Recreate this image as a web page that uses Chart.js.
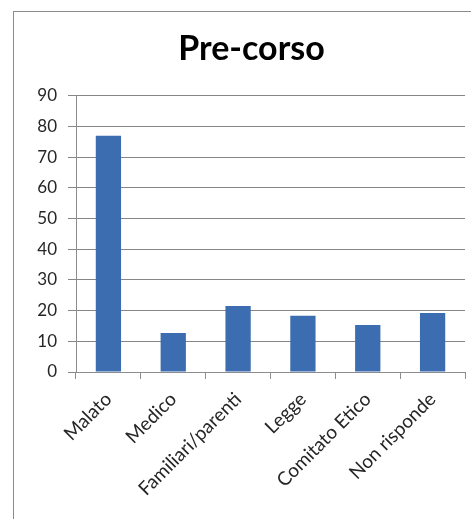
<!DOCTYPE html>
<html>
<head>
<meta charset="utf-8">
<script src="https://cdn.jsdelivr.net/npm/chart.js@4"></script>
<style>
    html, body { margin: 0; padding: 0; background: #fff; }
    #wrap { position: relative; width: 471px; height: 519px; overflow: hidden; }
    #frame { position: absolute; left: 13px; top: 11px; width: 500px; height: 600px;
             border-left: 1px solid #8c8c8c; border-top: 1px solid #8c8c8c; }
    canvas { position: absolute; left: 0; top: 0; }
</style>
</head>
<body>
<div id="wrap">
    <div id="frame"></div>
    <canvas id="chart" width="471" height="519"></canvas>
</div>
<script>
const categories = ['Malato', 'Medico', 'Familiari/parenti', 'Legge', 'Comitato Etico', 'Non risponde'];
const values = [77, 12.7, 21.5, 18.3, 15.3, 19.2];
const yTicks = [0, 10, 20, 30, 40, 50, 60, 70, 80, 90];

// title is centred on the outer frame, not on the canvas
const shiftTitle = {
    id: 'shiftTitle',
    afterLayout(chart) {
        chart.titleBlock.left += 19;
        chart.titleBlock.right += 19;
    }
};

document.addEventListener("DOMContentLoaded", function () {
    const ctx = document.getElementById('chart').getContext('2d');
    new Chart(ctx, {
        type: 'bar',
        data: {
            labels: categories,
            datasets: [{
                data: values,
                backgroundColor: '#3d6db1',
                barPercentage: 0.39,
                categoryPercentage: 1
            }]
        },
        plugins: [shiftTitle],
        options: {
            responsive: false,
            animation: false,
            layout: { padding: { left: 0, right: 6, top: 0, bottom: 0 } },
            plugins: {
                legend: { display: false },
                tooltip: { enabled: false },
                title: {
                    display: true,
                    text: 'Pre-corso',
                    color: '#000',
                    font: { family: 'Lato', size: 34, weight: 'bold' },
                    padding: { top: 29, bottom: 26 }
                }
            },
            scales: {
                x: {
                    afterFit: function (scale) { scale.height = 147; },
                    grid: {
                        drawOnChartArea: false,
                        drawTicks: true,
                        tickLength: 7,
                        color: '#8c8c8c',
                        offset: true
                    },
                    border: { color: '#8c8c8c' },
                    ticks: {
                        color: '#262626',
                        font: { family: 'Lato', size: 19 },
                        minRotation: 45,
                        maxRotation: 45,
                        padding: 9
                    }
                },
                y: {
                    min: 0,
                    max: 90,
                    afterFit: function (scale) { scale.width = 76; },
                    afterBuildTicks: function (scale) {
                        scale.ticks = yTicks.map(v => ({ value: v }));
                    },
                    grid: {
                        color: '#868686',
                        tickLength: 8,
                        drawTicks: true
                    },
                    border: { color: '#8c8c8c' },
                    ticks: {
                        color: '#262626',
                        font: { family: 'Lato', size: 17 },
                        padding: 11
                    }
                }
            }
        }
    });
});
</script>
</body>
</html>
